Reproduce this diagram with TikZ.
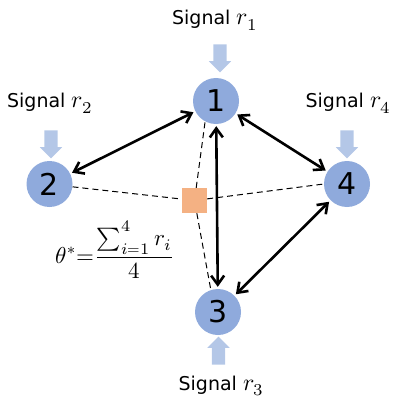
\documentclass[tikz,border=0pt]{standalone}
\usepackage{graphicx}
\usepackage{fontspec}
\usepackage{unicode-math}
\setmainfont{DejaVu Sans}
\setmathfont{Latin Modern Math}
\usetikzlibrary{arrows.meta, positioning, shapes.arrows}
\definecolor{cnode}{RGB}{143,170,220}
\definecolor{csig}{RGB}{180,199,231}
\definecolor{cavg}{RGB}{244,177,131}
\newcommand{\sig}[1]{Signal \scalebox{1.25}{$r_{#1}$}}

\begin{document}
\begin{tikzpicture}[
  x=1pt, y=-1pt,
  agent/.style  = {circle, fill=cnode, minimum size=46pt, inner sep=0pt,
                   font=\fontsize{30}{30}\selectfont},
  sigarr/.style = {single arrow, fill=csig, rotate=#1, inner xsep=0pt,
                   inner ysep=6.5pt, minimum height=28pt, minimum width=22pt,
                   single arrow head extend=4.5pt},
  siglbl/.style = {font=\normalsize, inner sep=0pt, scale=1.9, transform shape},
  eqlbl/.style  = {font=\normalsize, inner sep=0pt, scale=2.3, transform shape},
  link/.style   = {{Straight Barb[length=9pt,width=13pt]}-{Straight Barb[length=9pt,width=13pt]},
                   line width=2.6pt, shorten >=2pt, shorten <=2pt},
  share/.style  = {line width=1pt, dash pattern=on 6pt off 4pt},
]
\useasboundingbox (0,0) rectangle (392,398);

%% --- agents ---
\node[agent] (n1) at (216,101) {1};
\node[agent] (n2) at (49.5,184) {2};
\node[agent] (n4) at (347,184) {4};
\node[agent] (n3) at (218,312) {3};

%% --- consensus ---
\node[fill=cavg, minimum size=25pt, inner sep=0pt] (sq) at (194.5,200.5) {};
\node[eqlbl] (avg) at (115.5,250)
     {$\displaystyle\theta^*{=}\frac{\sum_{i=1}^{4} r_i}{4}$};

%% --- incoming signals ---
\node[sigarr=-90] (s1) at (220,55)  {};
\node[sigarr=-90] (s2) at (51,141)  {};
\node[sigarr=-90] (s4) at (347,141) {};
\node[sigarr=90]  (s3) at (218.5,354) {};

\node[siglbl] (l1) at (215,20)    {\sig{1}};
\node[siglbl] (l2) at (50,103)    {\sig{2}};
\node[siglbl] (l4) at (348.5,103) {\sig{4}};
\node[siglbl] (l3) at (221.5,386) {\sig{3}};

%% --- links ---
\draw[link] (n2) -- (n1);
\draw[link] (n1) -- (n4);
\draw[link] (n1) -- (n3);
\draw[link] (n3) -- (n4);

%% --- dashed averaging lines ---
\draw[share] (sq) -- (n1.-118);
\draw[share, shorten <=4pt] (sq) -- (n2.-7);
\draw[share] (sq) -- (n4.180);
\draw[share] (sq) -- (n3.108);

\end{tikzpicture}
\end{document}
